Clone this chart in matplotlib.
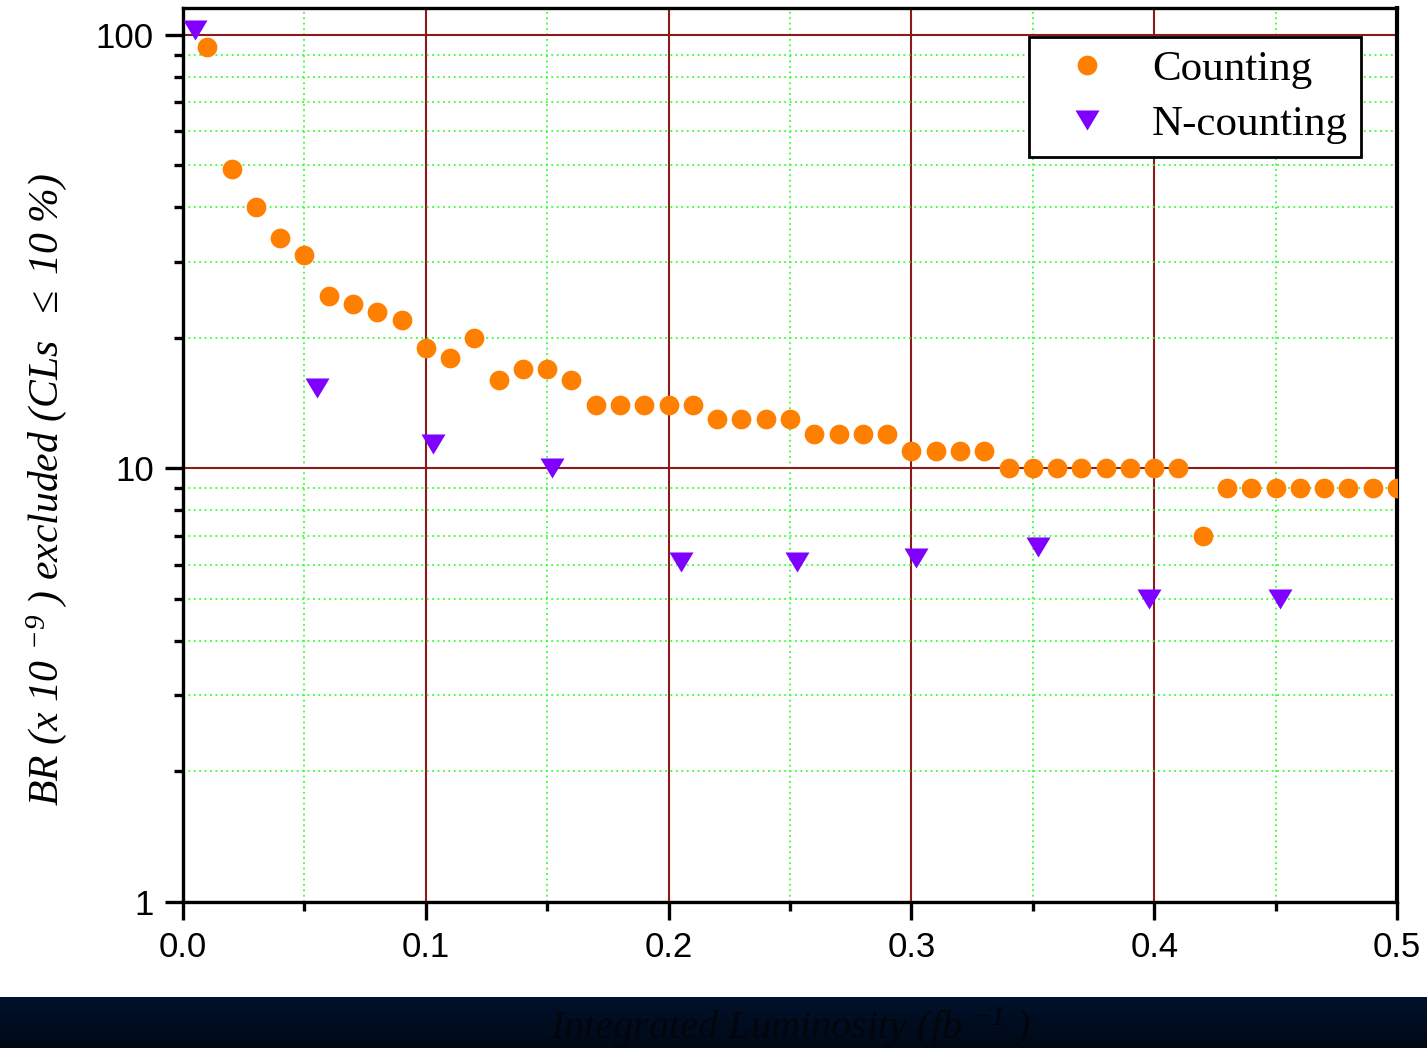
import numpy as np
import matplotlib
matplotlib.use('Agg')
import matplotlib.pyplot as plt
from matplotlib.ticker import FixedLocator, LogLocator, NullFormatter

plt.rcParams['mathtext.fontset'] = 'custom'
plt.rcParams['mathtext.rm'] = 'Liberation Serif:italic'
plt.rcParams['mathtext.it'] = 'Liberation Serif:italic'

#### DATA
counting_x = [0.01, 0.02, 0.03, 0.04, 0.05, 0.06, 0.07, 0.08, 0.09, 0.10,
              0.11, 0.12, 0.13, 0.14, 0.15, 0.16, 0.17, 0.18, 0.19, 0.20,
              0.21, 0.22, 0.23, 0.24, 0.25, 0.26, 0.27, 0.28, 0.29, 0.30,
              0.31, 0.32, 0.33, 0.34, 0.35, 0.36, 0.37, 0.38, 0.39, 0.40,
              0.41, 0.42, 0.43, 0.44, 0.45, 0.46, 0.47, 0.48, 0.49, 0.50]
counting_y = [94, 49, 40, 34, 31, 25, 24, 23, 22, 19,
              18, 20, 16, 17, 17, 16, 14, 14, 14, 14,
              14, 13, 13, 13, 13, 12, 12, 12, 12, 11,
              11, 11, 11, 10, 10, 10, 10, 10, 10, 10,
              10, 7, 9, 9, 9, 9, 9, 9, 9, 9]

ncount_x = [0.005, 0.055, 0.103, 0.152, 0.205, 0.253, 0.302, 0.352, 0.398, 0.452]
ncount_y = [102.7, 15.3, 11.4, 10.0, 6.1, 6.1, 6.2, 6.6, 5.0, 5.0]

orange = '#ff8000'
purple = '#8000ff'
tri = [(-1.2, 1), (1.2, 1), (0, -1)]

fig = plt.figure(figsize=(14.27, 10.48), dpi=100)

#### dark band at the bottom
band = fig.add_axes([0, 0, 1, 51 / 1048])
grad = np.linspace(0, 1, 50).reshape(-1, 1)
band.imshow(grad, aspect='auto', extent=[0, 1, 0, 1],
            cmap=matplotlib.colors.LinearSegmentedColormap.from_list(
                'b', ['#000916', '#00122c']), origin='lower')
band.axis('off')

ax = fig.add_axes([183 / 1427, 1 - 902 / 1048, 1214 / 1427, 894 / 1048])
ax.set_yscale('log')
ax.set_xlim(0, 0.5)
ax.set_ylim(1, 115.4)

ax.plot(counting_x, counting_y, linestyle='none', marker='o', markersize=14.2,
        color=orange, markeredgewidth=0, label='Counting', zorder=3)
ax.plot(ncount_x, ncount_y, linestyle='none', marker=tri, markersize=17.3,
        color=purple, markeredgewidth=0, label='N-counting', zorder=3)

#### ticks & grids
ax.xaxis.set_major_locator(FixedLocator([0, 0.1, 0.2, 0.3, 0.4, 0.5]))
ax.xaxis.set_minor_locator(FixedLocator([0.05, 0.15, 0.25, 0.35, 0.45]))
ax.set_xticklabels(['0.0', '0.1', '0.2', '0.3', '0.4', '0.5'])
ax.yaxis.set_major_locator(FixedLocator([1, 10, 100]))
ax.yaxis.set_minor_locator(LogLocator(base=10, subs=np.arange(2, 10)))
ax.yaxis.set_minor_formatter(NullFormatter())
ax.set_yticklabels(['1', '10', '100'])

ax.set_axisbelow(True)
ax.grid(which='minor', color='#33ff33', linestyle=(0, (1, 2)), linewidth=1.3)
ax.grid(which='major', color='#8b1a1a', linestyle='-', linewidth=1.5)

for s in ['left', 'bottom', 'top']:
    ax.spines[s].set_linewidth(2.4)
ax.spines['right'].set_linewidth(3)

ax.tick_params(which='major', direction='out', length=13, width=2.4,
               labelsize=25, pad=8, top=False, right=False)
ax.tick_params(which='minor', direction='out', length=6.5, width=2.4,
               top=False, right=False)
for lab in ax.get_xticklabels() + ax.get_yticklabels():
    lab.set_family('Liberation Sans')

#### labels
fig.text(47 / 1427, 1 - 490 / 1048,
         r'BR (x 10 $^{-9}$ ) excluded (CLs  $\leq$ 10 %)',
         rotation=90, ha='center', va='center', fontsize=30,
         family='Liberation Serif', style='italic', color='black')
fig.text(790 / 1427, 9 / 1048, r'Integrated Luminosity (fb $^{-1}$ )',
         ha='center', va='baseline', fontsize=29,
         family='Liberation Serif', style='italic', color='#02060c')

leg = ax.legend(loc='upper left', bbox_to_anchor=(0.697, 0.9676),
                borderaxespad=0, prop={'family': 'Liberation Serif', 'size': 31},
                fancybox=False, framealpha=1, edgecolor='black',
                handlelength=2.1, handletextpad=0.45, borderpad=0.3,
                labelspacing=0.36)
leg.get_frame().set_linewidth(2)

fig.savefig('out.png', dpi=100)
